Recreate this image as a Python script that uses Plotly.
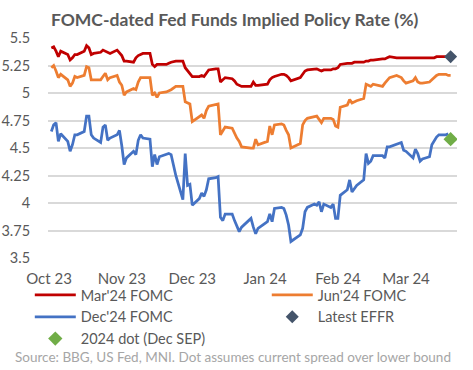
import plotly.graph_objects as go

# ---- data ----
mar24_dates = ["2023-10-02","2023-10-03","2023-10-04","2023-10-05","2023-10-06","2023-10-09","2023-10-10","2023-10-11","2023-10-12","2023-10-13",
 "2023-10-16","2023-10-17","2023-10-18","2023-10-19","2023-10-20","2023-10-23","2023-10-24","2023-10-25","2023-10-26","2023-10-27",
 "2023-10-30","2023-10-31","2023-11-01","2023-11-02","2023-11-03","2023-11-06","2023-11-07","2023-11-08","2023-11-09","2023-11-10",
 "2023-11-13","2023-11-14","2023-11-15","2023-11-16","2023-11-17","2023-11-20","2023-11-21","2023-11-22","2023-11-24","2023-11-27",
 "2023-11-28","2023-11-29","2023-11-30","2023-12-01","2023-12-04","2023-12-05","2023-12-06","2023-12-07","2023-12-08","2023-12-11",
 "2023-12-12","2023-12-13","2023-12-14","2023-12-15","2023-12-18","2023-12-19","2023-12-20","2023-12-21","2023-12-22","2023-12-26",
 "2023-12-27","2023-12-28","2023-12-29","2024-01-02","2024-01-03","2024-01-04","2024-01-05","2024-01-08","2024-01-09","2024-01-10",
 "2024-01-11","2024-01-12","2024-01-16","2024-01-17","2024-01-18","2024-01-19","2024-01-22","2024-01-23","2024-01-24","2024-01-25",
 "2024-01-26","2024-01-29","2024-01-30","2024-01-31","2024-02-01","2024-02-02","2024-02-05","2024-02-06","2024-02-07","2024-02-08",
 "2024-02-09","2024-02-12","2024-02-13","2024-02-14","2024-02-15","2024-02-16","2024-02-20","2024-02-21","2024-02-22","2024-02-23",
 "2024-02-26","2024-02-27","2024-02-28","2024-02-29","2024-03-01","2024-03-04","2024-03-05","2024-03-06","2024-03-07","2024-03-08",
 "2024-03-11","2024-03-12","2024-03-13","2024-03-14","2024-03-15","2024-03-18","2024-03-19"]
mar24_values = [5.41,5.42,5.38,5.33,5.38,5.35,5.30,5.32,5.35,5.35,
 5.38,5.43,5.41,5.35,5.36,5.37,5.39,5.38,5.37,5.36,
 5.39,5.36,5.34,5.29,5.29,5.28,5.32,5.34,5.35,5.36,
 5.36,5.26,5.24,5.26,5.26,5.26,5.27,5.28,5.29,5.29,
 5.23,5.20,5.17,5.15,5.15,5.16,5.15,5.18,5.21,5.22,
 5.22,5.10,5.12,5.14,5.13,5.11,5.08,5.07,5.06,5.06,
 5.10,5.07,5.07,5.08,5.12,5.14,5.15,5.17,5.17,5.16,
 5.14,5.11,5.14,5.17,5.20,5.21,5.22,5.22,5.21,5.20,
 5.21,5.21,5.22,5.22,5.23,5.26,5.27,5.27,5.27,5.28,
 5.28,5.28,5.29,5.29,5.30,5.30,5.31,5.31,5.32,5.33,
 5.32,5.32,5.32,5.32,5.32,5.32,5.32,5.32,5.32,5.32,
 5.32,5.32,5.32,5.33,5.33,5.33,5.33]

jun24_dates = mar24_dates + ["2024-03-20"]
jun24_values = [5.23,5.25,5.20,5.14,5.17,5.12,5.06,5.09,5.15,5.14,
 5.16,5.24,5.23,5.12,5.12,5.12,5.15,5.18,5.12,5.14,
 5.16,5.10,5.07,4.98,5.01,5.04,5.03,5.10,5.14,5.14,
 5.14,4.98,5.00,4.96,5.00,5.01,5.02,5.03,5.06,5.06,
 4.92,4.91,4.90,4.74,4.79,4.80,4.77,4.84,4.88,4.90,
 4.90,4.62,4.65,4.69,4.68,4.63,4.59,4.56,4.51,4.50,
 4.50,4.58,4.53,4.56,4.70,4.62,4.71,4.72,4.71,4.66,
 4.62,4.50,4.54,4.71,4.75,4.77,4.79,4.79,4.76,4.73,
 4.77,4.77,4.76,4.70,4.69,4.87,4.89,4.94,4.91,4.92,
 4.93,4.95,5.08,5.07,5.06,5.08,5.06,5.09,5.12,5.14,
 5.16,5.15,5.14,5.11,5.09,5.11,5.14,5.10,5.09,5.09,
 5.10,5.12,5.14,5.16,5.17,5.17,5.16,5.16]

dec24_dates = mar24_dates
dec24_values = [4.65,4.71,4.73,4.56,4.63,4.56,4.47,4.53,4.62,4.62,
 4.65,4.79,4.79,4.62,4.59,4.55,4.69,4.71,4.57,4.59,
 4.62,4.66,4.52,4.35,4.41,4.47,4.44,4.57,4.62,4.59,
 4.58,4.33,4.44,4.35,4.42,4.44,4.45,4.44,4.25,4.03,
 4.45,4.16,4.17,3.98,4.04,4.09,4.06,4.12,4.22,4.23,
 4.24,3.87,3.84,3.90,3.90,3.84,3.78,3.74,3.78,3.86,
 3.78,3.72,3.77,3.83,3.90,3.83,3.95,3.96,3.95,3.89,
 3.80,3.65,3.71,3.77,3.92,3.96,3.99,3.98,4.01,3.92,
 3.99,3.96,3.99,3.86,3.86,4.07,4.12,4.21,4.10,4.13,
 4.16,4.21,4.45,4.36,4.38,4.43,4.43,4.41,4.51,4.51,
 4.53,4.54,4.55,4.48,4.47,4.41,4.49,4.45,4.38,4.40,
 4.42,4.53,4.57,4.60,4.62,4.62,4.63]

effr_date = ["2024-03-20"]
effr_value = [5.33]
dot_date = ["2024-03-20"]
dot_value = [4.58]

month_ticks = ["2023-10-01","2023-11-01","2023-12-01","2024-01-01","2024-02-01","2024-03-01"]
month_labels = ["Oct 23","Nov 23","Dec 23","Jan 24","Feb 24","Mar 24"]
y_ticks = [3.5,3.75,4,4.25,4.5,4.75,5,5.25,5.5]
y_labels = ["3.5","3.75","4","4.25","4.5","4.75","5","5.25","5.5"]

FONT = "Lato"
GREY = "#595959"

fig = go.Figure()
fig.add_trace(go.Scatter(x=mar24_dates, y=mar24_values, mode="lines", name="Mar'24 FOMC",
                         line=dict(color="#C00000", width=2.75), legend="legend"))
fig.add_trace(go.Scatter(x=jun24_dates, y=jun24_values, mode="lines", name="Jun'24 FOMC",
                         line=dict(color="#ED7D31", width=2.75), legend="legend2"))
fig.add_trace(go.Scatter(x=dec24_dates, y=dec24_values, mode="lines", name="Dec'24 FOMC",
                         line=dict(color="#4472C4", width=2.75), legend="legend"))
fig.add_trace(go.Scatter(x=effr_date, y=effr_value, mode="markers", name="Latest EFFR",
                         marker=dict(symbol="diamond", color="#44546A", size=10), legend="legend2"))
fig.add_trace(go.Scatter(x=dot_date, y=dot_value, mode="markers", name="2024 dot (Dec SEP)",
                         marker=dict(symbol="diamond", color="#70AD47", size=11), legend="legend"))

legend_common = dict(orientation="v", xanchor="left", xref="container",
                     yanchor="top", yref="container", itemwidth=41,
                     font=dict(family=FONT, size=14.5, color=GREY),
                     traceorder="normal", bgcolor="rgba(0,0,0,0)",
                     tracegroupgap=0, borderwidth=0)

fig.update_layout(
    width=473, height=370,
    margin=dict(l=48, r=16, t=38, b=112, autoexpand=False),
    paper_bgcolor="white", plot_bgcolor="white",
    font=dict(family=FONT, color=GREY, size=14),
    title=dict(text="<b>FOMC-dated Fed Funds Implied Policy Rate (%)</b>",
               x=0.496, xanchor="center", y=0.947, yanchor="middle",
               font=dict(family=FONT, size=17.5, color=GREY)),
    showlegend=True,
    legend=dict(x=0.063, y=0.246, **legend_common),
    legend2=dict(x=0.564, y=0.246, **legend_common),
    annotations=[dict(text="Source: BBG, US Fed, MNI. Dot assumes current spread over lower bound",
                      xref="paper", yref="paper", x=0.4535, y=-0.449,
                      xanchor="center", yanchor="middle", showarrow=False,
                      font=dict(family=FONT, size=13.5, color="#A6A6A6"))],
)
fig.update_xaxes(type="date", range=["2023-09-30 14:00", "2024-03-22 17:00"],
                 tickvals=month_ticks, ticktext=month_labels, showgrid=False,
                 showline=False, zeroline=False, ticks="", ticklabelstandoff=10,
                 tickangle=0, automargin=False,
                 tickfont=dict(family=FONT, size=15, color=GREY))
fig.update_yaxes(range=[3.5, 5.5], tickvals=y_ticks, ticktext=y_labels,
                 showgrid=True, gridcolor="#D9D9D9", gridwidth=2, zeroline=False,
                 showline=False, ticks="outside", ticklen=14, tickcolor="rgba(0,0,0,0)",
                 automargin=False,
                 tickfont=dict(family=FONT, size=14.5, color=GREY))

fig.write_html("out.html", config={"displayModeBar": False},
               post_script="document.body.style.margin='0px';")
